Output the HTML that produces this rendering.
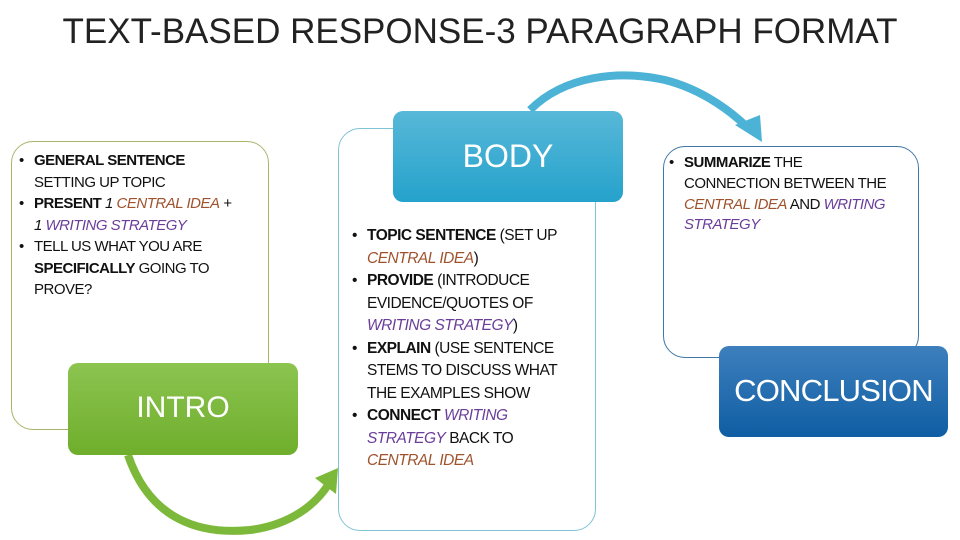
<!DOCTYPE html>
<html><head><meta charset="utf-8"><style>
body{margin:0;width:960px;height:540px;background:#fff;position:relative;overflow:hidden;font-family:"Liberation Sans",sans-serif;}
.a{position:absolute;box-sizing:border-box;}
.t{font-size:15px;line-height:21.5px;color:#111;white-space:nowrap;letter-spacing:-0.5px;}
.t div{position:relative;padding-left:15px;}
.t div:before{content:"•";position:absolute;left:0;}
.o{color:#a0522d;font-style:italic}
.p{color:#6a3d9a;font-style:italic}
.hdr{color:#fff;text-align:center;border-radius:10px;}
</style></head><body>
<div class="a" style="left:0;top:12px;width:960px;text-align:center;font-size:35px;color:#222;letter-spacing:0px;">TEXT-BASED RESPONSE-3 PARAGRAPH FORMAT</div>

<svg class="a" style="left:0;top:0" width="960" height="540">
<path d="M128,455 C150,520 200,535 250,530 C290,525 315,505 328,485" fill="none" stroke="#7cb83a" stroke-width="8"/>
<path d="M315,478 L338,468 L336,494 z" fill="#7cb83a"/>
<path d="M530,110 C565,75 620,70 665,80 C705,90 735,115 748,128" fill="none" stroke="#4cb3d6" stroke-width="8"/>
<path d="M735,125 L762,142 L760,115 z" fill="#4cb3d6"/>
</svg>

<div class="a" style="left:11px;top:141px;width:258px;height:289px;border:1px solid #a9b56a;border-radius:22px;"></div>
<div class="a t" style="left:19px;top:150px;width:250px;">
<div><b>GENERAL SENTENCE</b><br>SETTING UP TOPIC</div>
<div><b>PRESENT</b> <i>1</i> <span class="o">CENTRAL IDEA</span> <i>+</i><br><i>1</i> <span class="p">WRITING STRATEGY</span></div>
<div>TELL US WHAT YOU ARE<br><b>SPECIFICALLY</b> GOING TO<br>PROVE?</div>
</div>
<div class="a hdr" style="left:68px;top:363px;width:230px;height:92px;background:linear-gradient(#8cc450,#6fae2c);font-size:30px;line-height:90px;">INTRO</div>

<div class="a" style="left:338px;top:128px;width:258px;height:403px;border:1px solid #7fc3d6;border-radius:22px;"></div>
<div class="a hdr" style="left:393px;top:111px;width:230px;height:91px;background:linear-gradient(#58b8d8,#25a2cc);font-size:32px;line-height:90px;">BODY</div>
<div class="a t" style="left:352px;top:225px;width:240px;line-height:22.5px;font-size:15.5px;">
<div><b>TOPIC SENTENCE</b> (SET UP<br><span class="o">CENTRAL IDEA</span>)</div>
<div><b>PROVIDE</b> (INTRODUCE<br>EVIDENCE/QUOTES OF<br><span class="p">WRITING STRATEGY</span>)</div>
<div><b>EXPLAIN</b> (USE SENTENCE<br>STEMS TO DISCUSS WHAT<br>THE EXAMPLES SHOW</div>
<div><b>CONNECT</b> <span class="p">WRITING<br>STRATEGY</span> BACK TO<br><span class="o">CENTRAL IDEA</span></div>
</div>

<div class="a" style="left:663px;top:146px;width:256px;height:212px;border:1px solid #3f78a8;border-radius:22px;"></div>
<div class="a t" style="left:669px;top:153px;width:250px;line-height:20.8px;">
<div><b>SUMMARIZE</b> THE<br>CONNECTION BETWEEN THE<br><span class="o">CENTRAL IDEA</span> AND <span class="p">WRITING<br>STRATEGY</span></div>
</div>
<div class="a hdr" style="left:719px;top:346px;width:229px;height:91px;background:linear-gradient(#3e7fbd,#0f5ea3);font-size:31px;letter-spacing:-0.8px;line-height:90px;">CONCLUSION</div>
</body></html>
